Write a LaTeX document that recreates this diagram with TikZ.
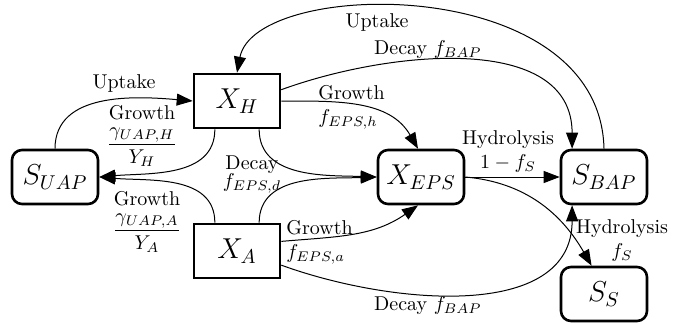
\documentclass[tikz,border=0pt]{standalone}
\usepackage{amsmath}
\usetikzlibrary{arrows.meta,calc}
\begin{document}
\begin{tikzpicture}[x=0.5pt,y=0.5pt,
  box/.style={draw,line width=1.3pt,minimum width=43pt,minimum height=27pt,inner sep=0pt,font=\Large},
  rbox/.style={box,rounded corners=5pt},
  flow/.style={line width=0.5pt,-{Triangle[length=8pt,width=6pt]}},
  lbl/.style={inner sep=0pt,align=center}]
\useasboundingbox (0,0) rectangle (679,-323);
% nodes
\node[rbox] (suap) at (55,-177) {$S_{UAP}$};
\node[box]  (xh)   at (237,-101) {$X_H$};
\node[box]  (xa)   at (237,-251) {$X_A$};
\node[rbox] (xeps) at (421,-177) {$X_{EPS}$};
\node[rbox] (sbap) at (604,-177) {$S_{BAP}$};
\node[rbox] (ss)   at (604,-294) {$S_S$};
% helper coordinates
\coordinate (xhbl) at ($(xh.south west)!0.25!(xh.south east)$);
\coordinate (xhbr) at ($(xh.south west)!0.75!(xh.south east)$);
\coordinate (xatl) at ($(xa.north west)!0.25!(xa.north east)$);
\coordinate (xatr) at ($(xa.north west)!0.75!(xa.north east)$);
\coordinate (xhe1) at ($(xh.north east)!0.3!(xh.south east)$);
\coordinate (xae1) at ($(xa.north east)!0.33!(xa.south east)$);
\coordinate (xae2) at ($(xa.north east)!0.75!(xa.south east)$);
\coordinate (sbaptl) at ($(sbap.north west)!0.14!(sbap.north east)$);
\coordinate (sbapbl) at ($(sbap.south west)!0.14!(sbap.south east)$);
\coordinate (sstop) at ($(ss.north west)!0.36!(ss.north east)$);
\coordinate (c1) at (600,28);
\coordinate (c2) at (255,22);
% edges
\draw[flow] (suap.north) to[out=90,in=175] (xh.west);
\draw[flow] (xhbl) to[out=-90,in=5] (suap.east);
\draw[flow] (xatl) to[out=90,in=-5] (suap.east);
\draw[flow] (xhbr) to[out=-90,in=178] (xeps.west);
\draw[flow] (xatr) to[out=90,in=182] (xeps.west);
\draw[flow] (xh.east) to[out=0,in=120] ([xshift=-1.5pt]xeps.north);
\draw[flow] (xae1) to[out=5,in=-145] ([xshift=-1.5pt]xeps.south);
\draw[flow] (xhe1) to[out=20,in=90] (sbaptl);
\draw[flow] (sbap.north) .. controls (c1) and (c2) .. (xh.north);
\draw[flow] (xeps.east) -- (sbap.west);
\draw[flow] (xeps.east) to[out=-5,in=120] (sstop);
\draw[flow] (xae2) to[out=-20,in=-90] (sbapbl);
% labels
\node[lbl] (lup1) at (124,-83) {Uptake};
\node[lbl] (lgh) at (142,-136) {Growth\\[3pt]$\dfrac{\gamma_{UAP,H}}{Y_H}$};
\node[lbl] (lga) at (147,-222) {Growth\\[3pt]$\dfrac{\gamma_{UAP,A}}{Y_A}$};
\node[lbl] (ldd) at (252,-175) {Decay\\[-3pt]$f_{EPS,d}$};
\node[lbl,align=left,anchor=west] (lgeh) at (318,-107) {Growth\\$f_{EPS,h}$};
\node[lbl,align=left,anchor=west] (lgea) at (286,-242) {Growth\\$f_{EPS,a}$};
\node[lbl] (ldb1) at (428,-50) {Decay $f_{BAP}$};
\node[lbl] (lup2) at (377,-22) {Uptake};
\node[lbl] (lhy1) at (508,-151) {Hydrolysis\\$1-f_S$};
\node[lbl] (lhy2) at (622,-240) {Hydrolysis\\$f_S$};
\node[lbl] (ldb2) at (428,-306) {Decay $f_{BAP}$};
\end{tikzpicture}
\end{document}
